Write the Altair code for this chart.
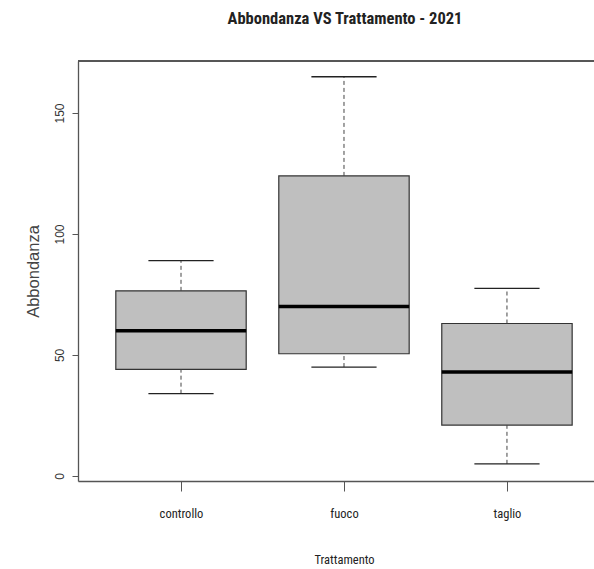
import json
import altair as alt
import pandas as pd

categories = ["controllo", "fuoco", "taglio"]
mins = [34, 45, 5]
q1s = [44, 50.5, 21]
medians = [60, 70, 43]
q3s = [76.5, 124, 63]
maxs = [89, 165, 77.5]

df = pd.DataFrame({
    "cat": categories,
    "pos": [i + 1 for i in range(len(categories))],
    "lo": mins, "q1": q1s, "med": medians, "q3": q3s, "hi": maxs,
})

W, H = 516, 420
XDOM = [0.368, 3.534]
YDOM = [-2.1, 171.5]
NARROW = "Liberation Sans Narrow, Arial Narrow, Roboto Condensed, DejaVu Sans Condensed, sans-serif"
SANS = "Liberation Sans, Arial, sans-serif"

xs = alt.Scale(domain=XDOM, nice=False, zero=False)
ys = alt.Scale(domain=YDOM, nice=False, zero=False)

label_expr = json.dumps(categories) + "[datum.value - 1]"

base = alt.Chart(df).transform_calculate(
    bl="datum.pos - 0.4", br="datum.pos + 0.4",
    cl="datum.pos - 0.2", cr="datum.pos + 0.2",
)

xaxis = alt.Axis(values=[1, 2, 3], labelExpr=label_expr, grid=False,
                 tickSize=10, tickColor="#555", domainColor="#555", domainWidth=1.3,
                 labelFont=NARROW, labelFontSize=12.5, labelColor="#222",
                 labelPadding=22, labelBaseline="middle",
                 title="Trattamento", titleFont=NARROW, titleFontSize=12.5,
                 titleFontWeight="normal", titleColor="#222",
                 titleX=266, titleY=78, titleAlign="center", titleBaseline="middle")
yaxis = alt.Axis(values=[0, 50, 100, 150], grid=False,
                 tickSize=6, tickColor="#555", domainColor="#555", domainWidth=1.3,
                 labelFont=SANS, labelFontSize=12, labelColor="#333",
                 labelAngle=270, labelAlign="center", labelBaseline="middle",
                 labelPadding=13,
                 title="Abbondanza", titleFont=SANS, titleFontSize=16.5,
                 titleFontWeight="normal", titleColor="#444",
                 titleX=-45, titleY=210, titleAngle=270,
                 titleAlign="center", titleBaseline="middle")

boxes = base.mark_bar(color="#BFBFBF", stroke="#333", strokeWidth=1.2).encode(
    x=alt.X("bl:Q", scale=xs, axis=xaxis),
    x2="br:Q",
    y=alt.Y("q1:Q", scale=ys, axis=yaxis),
    y2="q3:Q",
)
median = base.mark_rule(color="black", strokeWidth=3.5).encode(
    x=alt.X("bl:Q", scale=xs), x2="br:Q", y=alt.Y("med:Q", scale=ys))
wh_up = base.mark_rule(color="#444", strokeWidth=1, strokeDash=[4, 3]).encode(
    x=alt.X("pos:Q", scale=xs), y=alt.Y("q3:Q", scale=ys), y2="hi:Q")
wh_dn = base.mark_rule(color="#444", strokeWidth=1, strokeDash=[4, 3]).encode(
    x=alt.X("pos:Q", scale=xs), y=alt.Y("lo:Q", scale=ys), y2="q1:Q")
cap_up = base.mark_rule(color="#222", strokeWidth=1.3).encode(
    x=alt.X("cl:Q", scale=xs), x2="cr:Q", y=alt.Y("hi:Q", scale=ys))
cap_dn = base.mark_rule(color="#222", strokeWidth=1.3).encode(
    x=alt.X("cl:Q", scale=xs), x2="cr:Q", y=alt.Y("lo:Q", scale=ys))
top = alt.Chart(df).mark_rule(color="#555", strokeWidth=1.3).encode(
    x=alt.value(0), x2=alt.value(W), y=alt.value(0))

chart = alt.layer(boxes, wh_up, wh_dn, median, cap_up, cap_dn, top).properties(
    width=W, height=H,
    autosize=alt.AutoSizeParams(type="none"),
    padding={"left": 78, "top": 61, "right": 0, "bottom": 88},
    title=alt.TitleParams("Abbondanza VS Trattamento - 2021", font=NARROW,
                          fontSize=16.5, fontWeight="bold", color="#222",
                          anchor="middle", dx=9, offset=33),
).configure_view(stroke=None).configure(background="white")

chart.save("out.html", embed_options={"renderer": "svg", "actions": False})
